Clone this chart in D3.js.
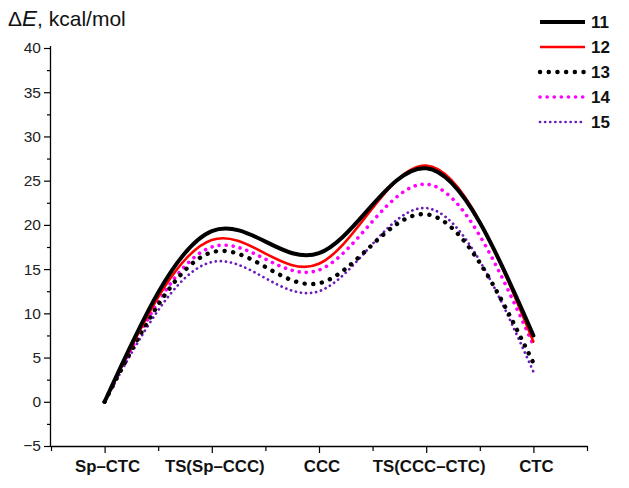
<!DOCTYPE html>
<html><head><meta charset="utf-8">
<script src="https://cdn.jsdelivr.net/npm/d3@7"></script>
<style>body{margin:0;background:#fff}svg{display:block}</style>
</head><body>
<svg id="c" width="629" height="488"></svg>
<script>
const stages = ["Sp–CTC","TS(Sp–CCC)","CCC","TS(CCC–CTC)","CTC"];
const series11 = [0, 19.3, 16.8, 26.4, 7.5];
const series12 = [0, 18.3, 15.6, 26.7, 6.8];
const series13 = [0, 16.9, 13.4, 21.2, 4.4];
const series14 = [0, 17.5, 14.9, 24.6, 6.4];
const series15 = [0, 15.8, 12.5, 21.9, 3.4];
const seriesNames = ["11","12","13","14","15"];
const yTicks = [-5,0,5,10,15,20,25,30,35,40];

const series = [
  {name:"11", values:series11, color:"#000000", width:4, dash:null},
  {name:"12", values:series12, color:"#ff0000", width:2.6, dash:null},
  {name:"13", values:series13, color:"#000000", width:4.4, dash:"0.1 8.6"},
  {name:"14", values:series14, color:"#ff00ff", width:3.6, dash:"0.1 7"},
  {name:"15", values:series15, color:"#6a1bb8", width:2.7, dash:"0.1 5"}
];

const svg = d3.select("#c");
const L = 51, R = 587, T = 48, B = 446;
const x = d3.scaleLinear().domain([0, 10]).range([L, R]);
const xi = i => x(2*i + 1);
const y = d3.scaleLinear().domain([-5, 40]).range([B, T]);
const FONT = "Liberation Sans, Arial, sans-serif";

// y axis
const yAxis = d3.axisLeft(y).tickValues(yTicks).tickSize(7).tickPadding(3).tickFormat(d => d < 0 ? "\u22125" : d);
const gy = svg.append("g").attr("transform", `translate(${L},0)`).call(yAxis);
gy.select(".domain").attr("stroke","#000").attr("stroke-width",1.3).attr("d", `M-0.5,${B}V${T-2}`);
gy.selectAll(".tick line").attr("stroke-width",1.2);
gy.selectAll("text").attr("font-family",FONT).attr("font-size",15.5).attr("fill","#222");
const gym = svg.append("g").attr("transform", `translate(${L},0)`)
  .call(d3.axisLeft(y).tickValues(d3.range(-2.5, 40, 5)).tickSize(4).tickFormat(""));
gym.select(".domain").remove();
gym.selectAll(".tick line").attr("stroke-width",1.2);

// x axis
const gx = svg.append("g").attr("transform", `translate(0,${B})`)
  .call(d3.axisBottom(x).tickValues(d3.range(0,11)).tickSizeInner(0).tickSizeOuter(0).tickFormat(""));
gx.select(".domain").attr("stroke-width",1.3);
gx.selectAll(".tick line").attr("stroke-width",1.2).attr("y2", d => d % 2 === 1 ? 7 : 5);
svg.append("g").selectAll("text").data(stages).join("text")
  .attr("x", (d,i) => xi(i) + 3).attr("y", B + 26).attr("text-anchor","middle")
  .attr("font-family",FONT).attr("font-weight","bold").attr("font-size",16.8)
  .attr("fill","#111").text(d => d);

// title
const t = svg.append("text").attr("x", 8).attr("y", 26).attr("font-family",FONT)
  .attr("font-size",21).attr("fill","#111");
t.append("tspan").text("\u0394");
t.append("tspan").attr("font-style","italic").attr("font-size",22.5).text("E");
t.append("tspan").text(", kcal/mol");

// curves
const line = d3.line().x((d,i) => xi(i)).y(d => y(d)).curve(d3.curveNatural);
const order = [4,3,2,1,0];
order.forEach(k => {
  const s = series[k];
  svg.append("path").attr("d", line(s.values)).attr("fill","none")
    .attr("stroke", s.color).attr("stroke-width", s.width)
    .attr("stroke-linecap","round")
    .attr("stroke-dasharray", s.dash);
});

// legend
const lg = svg.append("g");
series.forEach((s,i) => {
  const yy = 22 + i*25;
  lg.append("line").attr("x1",540).attr("x2",585).attr("y1",yy).attr("y2",yy)
    .attr("stroke",s.color).attr("stroke-width",s.width).attr("stroke-linecap", s.dash ? "round" : "butt")
    .attr("stroke-dasharray",s.dash);
  lg.append("text").attr("x",591).attr("y",yy+6).attr("font-family",FONT)
    .attr("font-weight","bold").attr("font-size",17).attr("fill","#111").text(seriesNames[i]);
});
</script>
</body></html>
